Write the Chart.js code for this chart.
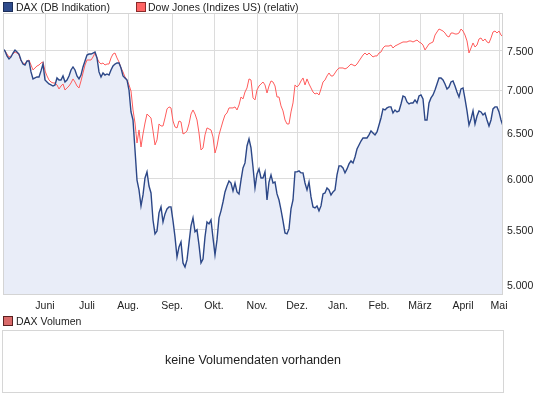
<!DOCTYPE html>
<html>
<head>
<meta charset="utf-8">
<script src="https://cdn.jsdelivr.net/npm/chart.js@4/dist/chart.umd.min.js"></script>
<style>
  body { margin: 0; width: 545px; height: 398px; background: #fff; position: relative; overflow: hidden;
         font-family: "Liberation Sans", Arial, sans-serif; font-size: 10.5px; color: #222; }
  #main { position: absolute; left: 0; top: 0; }
  .leg { position: absolute; line-height: 12px; white-space: nowrap; }
  .box { position: absolute; width: 8px; height: 8px; border: 1px solid #333; }
  #volBox { position: absolute; left: 2px; top: 330px; width: 500px; height: 61px; border: 1px solid #d6d6d6; }
  #volText { position: absolute; left: 0; right: 0; top: 22px; text-align: center; font-size: 12.5px; }
</style>
</head>
<body>
<canvas id="main" width="545" height="316"></canvas>

<div class="box" style="left:3px;top:2px;background:#2f4c8c;border-color:#1d2f5a"></div>
<div class="leg" style="left:16px;top:1px">DAX (DB Indikation)</div>
<div class="box" style="left:136px;top:2px;background:#ff6464;border-color:#8a2a2a"></div>
<div class="leg" style="left:148px;top:1px">Dow Jones (Indizes US) (relativ)</div>

<div class="box" style="left:3px;top:316px;background:#d96a6a;border-color:#5a2020"></div>
<div class="leg" style="left:16px;top:315px">DAX Volumen</div>
<div id="volBox"><div id="volText">keine Volumendaten vorhanden</div></div>

<script>
// month labels and where each month starts on the sample axis
const months = ['Juni', 'Juli', 'Aug.', 'Sep.', 'Okt.', 'Nov.', 'Dez.', 'Jan.', 'Feb.', 'März', 'April', 'Mai'];
const monthPos = [21, 42, 62.5, 84.5, 105.5, 127, 147, 167.5, 188, 208.5, 230, 248];
const yTicks = [5000, 5500, 6000, 6500, 7000, 7500];

// DAX, May 2011 - May 2012, roughly one value per trading day
const dax = [
  7516,7490,7426,7387,7413,7464,7503,7477,7451,7374,
  7323,7310,7362,7362,7223,7136,7148,7160,7160,7236,
  7323,7123,7098,7074,7062,7049,7062,7148,7123,7123,
  7173,7098,7123,7173,7248,7286,7248,7173,7136,7184,
  7286,7362,7438,7451,7451,7464,7477,7400,7223,7160,
  7210,7184,7198,7184,7248,7298,7323,7336,7336,7273,
  7173,7148,7123,7000,6739,6646,6309,5988,5887,5726,
  5836,6010,6074,5927,5856,5588,5455,5483,5657,5716,
  5569,5647,5696,5716,5716,5579,5426,5241,5333,5379,
  5187,5151,5214,5370,5531,5608,5474,5493,5352,5187,
  5223,5426,5569,5550,5588,5417,5260,5398,5608,5677,
  5765,5866,5927,5979,5958,5876,5958,5866,5846,5988,
  6116,6169,6353,6431,6331,6126,5907,6052,6105,6010,
  6010,6074,5785,5968,6042,5958,5968,5846,5785,5686,
  5579,5464,5455,5502,5696,5785,6074,6074,6084,6063,
  6063,5958,5887,5968,5816,5716,5706,5726,5677,5726,
  5846,5856,5907,5887,5836,5866,5887,6042,6137,6137,
  6116,6063,6105,6158,6190,6169,6233,6320,6364,6408,
  6442,6442,6442,6476,6521,6498,6476,6509,6588,6669,
  6774,6762,6786,6798,6798,6727,6762,6739,6751,6833,
  6928,6916,6857,6833,6845,6845,6881,6845,6928,6940,
  6893,6646,6646,6845,6905,6940,7001,7074,7148,7148,
  7123,7074,7013,7037,7098,7111,7049,6976,6916,7013,
  7025,6893,6751,6588,6657,6751,6600,6692,6751,6739,
  6704,6727,6646,6577,6646,6774,6798,6798,6739,6646,
  6577];

// Dow Jones rebased onto the DAX scale
const dow = [
  7516,7490,7451,7413,7426,7451,7477,7464,7438,7362,
  7336,7323,7362,7374,7310,7248,7273,7298,7310,7336,
  7349,7236,7173,7123,7098,7086,7086,7062,7013,7049,
  7074,7000,7025,7049,7086,7136,7098,7049,7025,7111,
  7210,7310,7374,7374,7374,7413,7464,7400,7349,7323,
  7336,7310,7323,7323,7400,7451,7464,7400,7349,7273,
  7223,7160,7123,7062,6988,6762,6611,6386,6532,6342,
  6487,6611,6715,6692,6669,6521,6364,6420,6600,6577,
  6577,6669,6774,6798,6786,6634,6566,6555,6634,6623,
  6487,6498,6521,6600,6715,6762,6715,6646,6498,6309,
  6331,6476,6555,6543,6532,6453,6276,6353,6476,6555,
  6634,6704,6727,6786,6786,6786,6798,6762,6821,6916,
  6893,6976,7025,7136,7123,6905,6881,7000,7049,7074,
  7098,7062,6964,7049,7111,7098,7049,6916,6916,6810,
  6751,6646,6600,6600,6739,6845,7062,7037,7062,7111,
  7148,7062,7136,7074,7025,6976,6952,6964,6940,7013,
  7098,7123,7173,7210,7173,7173,7210,7248,7273,7273,
  7273,7261,7273,7298,7323,7310,7298,7323,7362,7400,
  7438,7464,7438,7464,7438,7413,7426,7426,7464,7477,
  7529,7555,7555,7555,7568,7529,7555,7568,7582,7595,
  7608,7608,7608,7621,7621,7608,7621,7634,7608,7595,
  7568,7503,7542,7582,7595,7608,7700,7741,7781,7768,
  7754,7727,7687,7674,7727,7727,7714,7714,7727,7781,
  7754,7700,7621,7464,7529,7595,7542,7568,7648,7661,
  7621,7648,7608,7595,7661,7741,7754,7727,7754,7700,
  7674];

const toPoints = arr => arr.map((v, i) => ({ x: i, y: v }));
const fmt = v => String(v).replace(/\B(?=(\d{3})+(?!\d))/g, '.');

// gray frame around the plot
const frame = {
  id: 'frame',
  afterDraw(chart) {
    const { ctx, chartArea: a } = chart;
    ctx.save();
    ctx.strokeStyle = '#d4d4d4';
    ctx.lineWidth = 1;
    ctx.strokeRect(Math.round(a.left) + 0.5, Math.round(a.top) + 0.5,
      Math.round(a.right - a.left) - 1, Math.round(a.bottom - a.top));
    ctx.restore();
  }
};

new Chart(document.getElementById('main'), {
  type: 'line',
  data: {
    datasets: [
      {
        label: 'DAX (DB Indikation)',
        data: toPoints(dax),
        borderColor: '#2c4787',
        borderWidth: 1.4,
        backgroundColor: '#e9edf8',
        fill: 'start',
        pointRadius: 0,
        tension: 0
      },
      {
        label: 'Dow Jones (Indizes US) (relativ)',
        data: toPoints(dow),
        borderColor: '#ff5c5c',
        borderWidth: 1,
        fill: false,
        pointRadius: 0,
        tension: 0
      }
    ]
  },
  options: {
    responsive: false,
    animation: false,
    devicePixelRatio: 1,
    layout: { padding: { left: 3, top: 13, right: 0, bottom: 0 } },
    plugins: {
      legend: { display: false },
      tooltip: { enabled: false },
      filler: { drawTime: 'beforeDatasetsDraw' }
    },
    scales: {
      x: {
        type: 'linear',
        min: 0,
        max: 250,
        afterBuildTicks: s => { s.ticks = monthPos.map(v => ({ value: v })); },
        afterFit: s => { s.height = 22; },
        grid: { color: '#dcdcdc', drawTicks: false },
        border: { display: false },
        ticks: {
          autoSkip: false,
          maxRotation: 0,
          padding: 6,
          color: '#222',
          font: { family: 'Liberation Sans', size: 10.5 },
          callback: (v, i) => months[i]
        }
      },
      y: {
        type: 'logarithmic',
        position: 'right',
        min: 4915,
        max: 8000,
        afterBuildTicks: s => { s.ticks = yTicks.map(v => ({ value: v })); },
        afterFit: s => { s.width = 42; },
        grid: { color: '#dcdcdc', drawTicks: false },
        border: { display: false },
        ticks: {
          padding: 4,
          labelOffset: 1.5,
          color: '#222',
          font: { family: 'Liberation Sans', size: 10.5 },
          callback: v => fmt(v)
        }
      }
    }
  },
  plugins: [frame]
});
</script>
</body>
</html>
